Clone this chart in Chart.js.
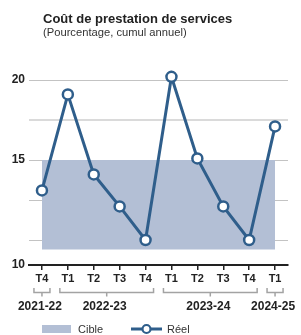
<!DOCTYPE html>
<html>
<head>
<meta charset="utf-8">
<script src="https://cdn.jsdelivr.net/npm/chart.js@4/dist/chart.umd.min.js"></script>
<style>
  html, body { margin: 0; padding: 0; background: #fff; }
  #wrap { position: relative; width: 301px; height: 335px; }
</style>
</head>
<body>
<div id="wrap"><canvas id="c" width="301" height="335"></canvas></div>
<script>
const titleText = 'Coût de prestation de services';
const subtitleText = '(Pourcentage, cumul annuel)';
const categories = ['T4', 'T1', 'T2', 'T3', 'T4', 'T1', 'T2', 'T3', 'T4', 'T1'];
const fiscalYears = ['2021-22', '2022-23', '2022-23', '2022-23', '2022-23', '2023-24', '2023-24', '2023-24', '2023-24', '2024-25'];
const reel = [13.1, 19.1, 14.1, 12.1, 10.0, 20.2, 15.1, 12.1, 10.0, 17.1];
const cibleHaut = [15, 15, 15, 15, 15, 15, 15, 15, 15, 15];
const cibleBas = [9.4, 9.4, 9.4, 9.4, 9.4, 9.4, 9.4, 9.4, 9.4, 9.4];
const yTickValues = [8.4375, 10, 12.5, 15, 17.5, 20];
const yTickLabels = ['10', '', '', '15', '', '20'];
const legendLabels = ['Cible', 'Réel'];

const lineColor = '#2f5e8b';
const cibleColor = '#b3bfd5';
const FONT = "'Liberation Sans', Arial, sans-serif";

const extras = {
  id: 'extras',
  afterDraw(chart) {
    const ctx = chart.ctx;
    const x = chart.scales.x;
    ctx.save();
    // Title & subtitle
    ctx.fillStyle = '#222';
    ctx.textAlign = 'left';
    ctx.textBaseline = 'alphabetic';
    ctx.font = 'bold 13px ' + FONT;
    ctx.fillText(titleText, 43, 23);
    ctx.fillStyle = '#333';
    ctx.font = '11.2px ' + FONT;
    ctx.fillText(subtitleText, 43, 36);

    // Fiscal year brackets
    const groups = [];
    fiscalYears.forEach((fy, i) => {
      const g = groups[groups.length - 1];
      if (g && g.label === fy) g.end = i; else groups.push({ label: fy, start: i, end: i });
    });
    ctx.strokeStyle = '#a3a3a3';
    ctx.lineWidth = 1.5;
    groups.forEach(g => {
      const xs = x.getPixelForValue(g.start) - 8;
      const xe = x.getPixelForValue(g.end) + 8;
      const xm = (xs + xe) / 2;
      ctx.beginPath();
      ctx.moveTo(xs, 288); ctx.lineTo(xs, 292.5); ctx.lineTo(xe, 292.5); ctx.lineTo(xe, 288);
      ctx.moveTo(xm, 292.5); ctx.lineTo(xm, 296.5);
      ctx.stroke();
      ctx.fillStyle = '#222';
      ctx.font = 'bold 12px ' + FONT;
      ctx.textAlign = 'center';
      ctx.fillText(g.label, xm - 2, 310);
    });

    // Legend
    ctx.fillStyle = cibleColor;
    ctx.fillRect(42, 325, 29, 8);
    ctx.fillStyle = '#333';
    ctx.font = '11px ' + FONT;
    ctx.textAlign = 'left';
    ctx.fillText(legendLabels[0], 78, 333);
    ctx.strokeStyle = lineColor;
    ctx.lineWidth = 3;
    ctx.beginPath(); ctx.moveTo(131, 329); ctx.lineTo(162, 329); ctx.stroke();
    ctx.beginPath(); ctx.arc(146.5, 329, 4, 0, Math.PI * 2);
    ctx.fillStyle = '#fff'; ctx.fill();
    ctx.lineWidth = 2.2; ctx.stroke();
    ctx.fillStyle = '#333';
    ctx.fillText(legendLabels[1], 167, 333);
    ctx.restore();
  }
};

new Chart(document.getElementById('c'), {
  type: 'line',
  data: {
    labels: categories,
    datasets: [
      {
        label: legendLabels[1],
        data: reel,
        borderColor: lineColor,
        borderWidth: 3,
        pointRadius: 5,
        pointBorderWidth: 2.5,
        pointBackgroundColor: '#fff',
        pointBorderColor: lineColor,
        tension: 0,
        clip: false,
        fill: false
      },
      {
        label: 'cibleBas',
        data: cibleBas,
        borderWidth: 0,
        pointRadius: 0,
        borderColor: 'rgba(0,0,0,0)',
        fill: false
      },
      {
        label: legendLabels[0],
        data: cibleHaut,
        borderWidth: 0,
        pointRadius: 0,
        borderColor: 'rgba(0,0,0,0)',
        backgroundColor: cibleColor,
        fill: { target: 1 }
      }
    ]
  },
  options: {
    responsive: false,
    animation: false,
    devicePixelRatio: 1,
    layout: { padding: { top: 64, right: 13, bottom: 0, left: 0 } },
    plugins: { legend: { display: false }, tooltip: { enabled: false } },
    scales: {
      x: {
        type: 'category',
        offset: true,
        grid: { drawOnChartArea: false, drawTicks: true, tickLength: 5, color: '#222', lineWidth: 1.5 },
        border: { display: true, color: '#222', width: 2 },
        ticks: { color: '#222', font: { family: FONT, weight: 'bold', size: 11 }, padding: 2, maxRotation: 0, autoSkip: false },
        afterFit(scale) { scale.height = 70; }
      },
      y: {
        min: yTickValues[0],
        max: 21,
        afterBuildTicks(scale) { scale.ticks = yTickValues.map(v => ({ value: v })); },
        afterFit(scale) { scale.width = 29; },
        border: { display: false },
        grid: {
          drawTicks: false,
          color(ctx) {
            const v = ctx.tick && ctx.tick.value;
            if (v === yTickValues[0]) return 'rgba(0,0,0,0)';
            if (v === 17.5) return '#dadada';
            return '#c3c3c3';
          },
          lineWidth(ctx) {
            const v = ctx.tick && ctx.tick.value;
            return v === 17.5 ? 2 : 1;
          }
        },
        ticks: {
          padding: 4,
          color: '#222',
          font: { family: FONT, weight: 'bold', size: 12 },
          callback(value, index) { return yTickLabels[index]; }
        }
      }
    }
  },
  plugins: [extras]
});
</script>
</body>
</html>
